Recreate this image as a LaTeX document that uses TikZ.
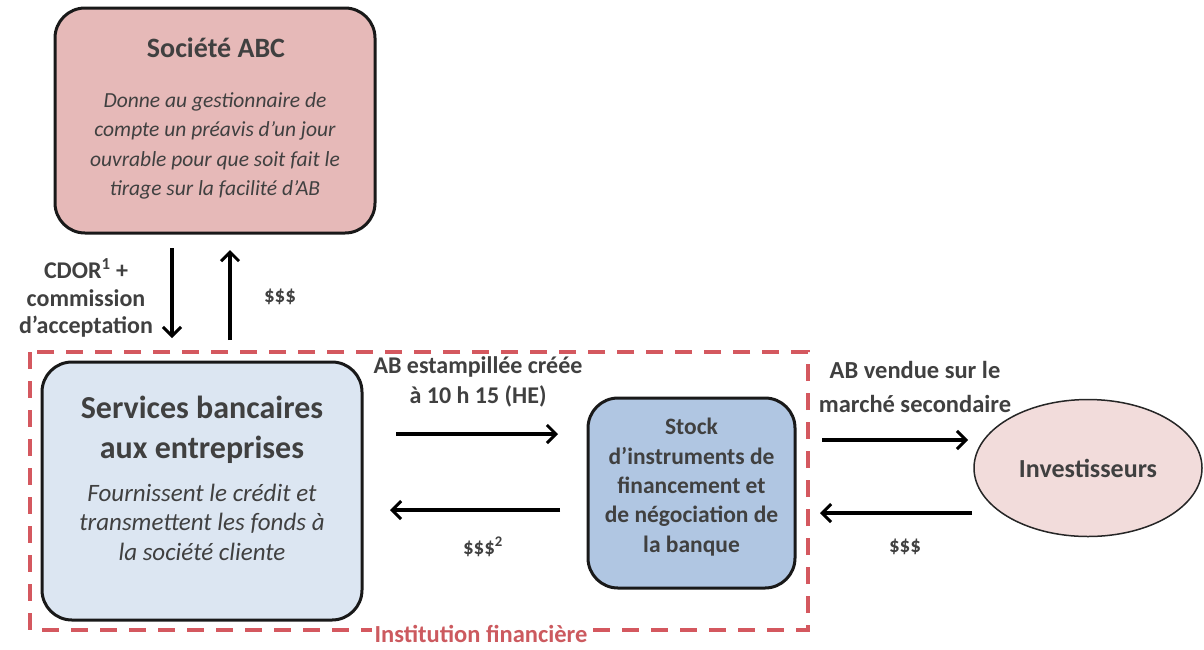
\documentclass[tikz,border=0pt]{standalone}
\usepackage{fontspec}
\setmainfont{Carlito}
\usetikzlibrary{arrows.meta,shapes.geometric}
\definecolor{txt}{HTML}{404040}
\definecolor{pinkbox}{HTML}{E6B9B8}
\definecolor{lightblue}{HTML}{DCE6F2}
\definecolor{midblue}{HTML}{B0C6E2}
\definecolor{ellpink}{HTML}{F2DCDB}
\definecolor{dashred}{HTML}{D4585F}
\definecolor{labred}{HTML}{CC5A5F}
\tikzset{
  x=1pt, y=-1pt,
  rbox/.style={draw=black!90, line width=3pt, rounded corners=30pt, text=txt, align=center, inner sep=0pt},
  flow/.style={-{Straight Barb[length=9pt,width=18pt,line width=3pt]}, line width=3.5pt, black},
  lab/.style={font=\fontsize{21}{29}\selectfont\bfseries, text=txt, align=center, inner sep=0pt},
}
\begin{document}
\begin{tikzpicture}
\useasboundingbox (0,0) rectangle (1204,649);
% institution dashed frame
\draw[dashred, line width=4pt, dash pattern=on 17pt off 12pt] (30,352) rectangle (808,630);
\node[font=\fontsize{24.5}{28}\selectfont\bfseries, text=labred, fill=white, inner sep=3pt] (inst) at (481,634) {Institution financière};

% Société ABC
\node[rbox, fill=pinkbox, minimum width=320pt, minimum height=225pt] (abc) at (215,120.5) {};
\node[text=txt, font=\fontsize{28}{30}\selectfont\bfseries] (abct) at (216,48) {Société ABC};
\node[text=txt, font=\fontsize{21.5}{29.5}\selectfont\itshape, align=center] (abcd) at (215,146) {Donne au gestionnaire de\\compte un préavis d’un jour\\ouvrable pour que soit fait le\\tirage sur la facilité d’AB};

% Services bancaires
\node[rbox, fill=lightblue, minimum width=320pt, minimum height=258pt] (sba) at (202,491) {};
\node[text=txt, font=\fontsize{32}{40}\selectfont\bfseries, align=center] (sbat) at (202,430) {Services bancaires\\aux entreprises};
\node[text=txt, font=\fontsize{25}{29.5}\selectfont\itshape, align=center] (sbad) at (202,522) {Fournissent le crédit et\\transmettent les fonds à\\la société cliente};

% Stock
\node[rbox, fill=midblue, minimum width=207pt, minimum height=190pt] (stock) at (691.5,493) {};
\node[text=txt, align=center, font=\fontsize{23.5}{29.3}\selectfont\bfseries] (stockt) at (691.5,487) {Stock\\d’instruments de\\financement et\\de négociation de\\la banque};

% Investisseurs
\node[ellipse, draw=black!85, line width=1.5pt, fill=ellpink, minimum width=228pt, minimum height=137pt, text=txt, font=\fontsize{26}{30}\selectfont\bfseries] (inv) at (1088,468) {Investisseurs};

% vertical arrows
\coordinate (d1) at (172,248); \coordinate (d2) at (172,338);
\coordinate (u1) at (230,340); \coordinate (u2) at (230,250);
\draw[flow] (d1) -- (d2);
\draw[flow] (u1) -- (u2);
\node[lab, font=\fontsize{24}{27.5}\selectfont\bfseries] (cdor) at (86,298) {CDOR\textsuperscript{1} +\\commission\\d’acceptation};
\node[lab] (s1) at (280,297) {\$\$\$};

% horizontal arrows middle
\coordinate (a1) at (396,434); \coordinate (a2) at (558,434);
\coordinate (b1) at (560,510); \coordinate (b2) at (390,510);
\draw[flow] (a1) -- (a2);
\draw[flow] (b1) -- (b2);
\node[lab, font=\fontsize{24}{30}\selectfont\bfseries] (l1) at (478,382) {AB estampillée créée\\à 10 h 15 (HE)};
\node[lab] (l2) at (483,547) {\$\$\$\textsuperscript{2}};

% right arrows
\coordinate (c1) at (822,440); \coordinate (c2) at (968,440);
\coordinate (e1) at (972,513); \coordinate (e2) at (820,513);
\draw[flow] (c1) -- (c2);
\draw[flow] (e1) -- (e2);
\node[lab, font=\fontsize{24.5}{34}\selectfont\bfseries] (l3) at (915,387) {AB vendue sur le\\marché secondaire};
\node[lab] (l4) at (905,547) {\$\$\$};
\end{tikzpicture}
\end{document}
